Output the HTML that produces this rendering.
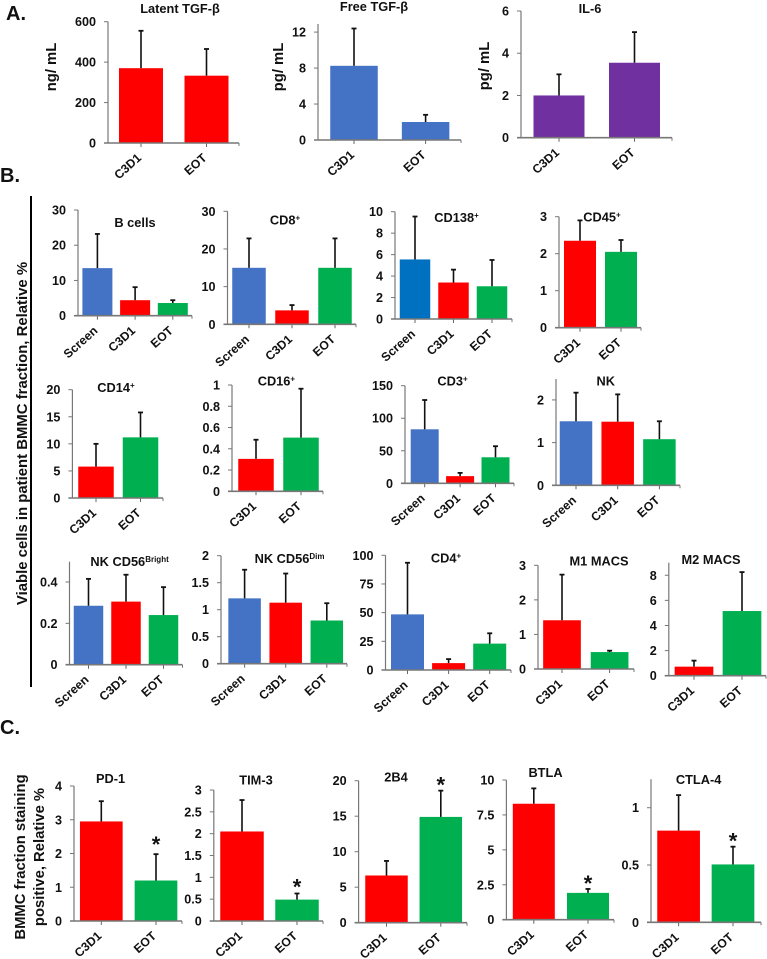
<!DOCTYPE html>
<html lang="en">
<head>
<meta charset="utf-8">
<title>Patient BMMC biomarker bar charts</title>
<style>
html,body{margin:0;padding:0;background:#fff;}
#figure{display:block;width:767px;height:959px;}
text{font-family:"Liberation Sans",sans-serif;font-weight:bold;fill:#111;}
</style>
</head>
<body>
<svg id="figure" xmlns="http://www.w3.org/2000/svg" width="767" height="959" viewBox="0 0 767 959">
  <rect x="0" y="0" width="767" height="959" fill="#ffffff"/>
  <text x="6" y="20" font-size="20">A.</text>
  <text x="0" y="182" font-size="20">B.</text>
  <text x="0" y="734" font-size="20">C.</text>
  <line x1="31" y1="196" x2="31" y2="687" stroke="#000" stroke-width="2"/>
  <text transform="translate(27,433.5) rotate(-90)" text-anchor="middle" font-size="14.9">Viable cells in patient BMMC fraction, Relative %</text>
  <text transform="translate(25,857) rotate(-90)" text-anchor="middle" font-size="14.8">BMMC fraction staining</text>
  <text transform="translate(44,857) rotate(-90)" text-anchor="middle" font-size="14.8">positive, Relative %</text>
</svg>
<script>
// ---- chart data ----
const twoCats = ['C3D1', 'EOT'];
const threeCats = ['Screen', 'C3D1', 'EOT'];

const latentValues = [370, 333];
const latentErrors = [555, 465];
const latentTicks = ['0', '200', '400', '600'];

const freeValues = [8.25, 2];
const freeErrors = [12.4, 2.8];
const freeTicks = ['0', '4', '8', '12'];

const il6Values = [2, 3.55];
const il6Errors = [3, 5];
const il6Ticks = ['0', '2', '4', '6'];

const bCellValues = [13.5, 4.4, 3.6];
const bCellErrors = [23.2, 8.1, 4.4];
const bCellTicks = ['0', '10', '20', '30'];

const cd8Values = [15, 3.7, 15];
const cd8Errors = [22.8, 5.1, 22.8];
const cd8Ticks = ['0', '10', '20', '30'];

const cd138Values = [5.55, 3.4, 3.05];
const cd138Errors = [9.55, 4.6, 5.5];
const cd138Ticks = ['0', '2', '4', '6', '8', '10'];

const cd45Values = [2.35, 2.05];
const cd45Errors = [2.9, 2.37];
const cd45Ticks = ['0', '1', '2', '3'];

const cd14Values = [5.8, 11.2];
const cd14Errors = [10, 15.8];
const cd14Ticks = ['0', '5', '10', '15', '20'];

const cd16Values = [0.305, 0.505];
const cd16Errors = [0.485, 0.965];
const cd16Ticks = ['0', '0.2', '0.4', '0.6', '0.8', '1'];

const cd3Values = [83, 11, 40];
const cd3Errors = [128, 16, 57];
const cd3Ticks = ['0', '50', '100', '150'];

const nkValues = [1.5, 1.49, 1.08];
const nkErrors = [2.17, 2.13, 1.5];
const nkTicks = ['0', '1', '2'];

const brightValues = [0.285, 0.305, 0.24];
const brightErrors = [0.415, 0.435, 0.375];
const brightTicks = ['0', '0.2', '0.4'];

const dimValues = [1.21, 1.13, 0.8];
const dimErrors = [1.74, 1.67, 1.12];
const dimTicks = ['0', '0.5', '1', '1.5', '2'];

const cd4Values = [48.5, 6, 23];
const cd4Errors = [93.5, 9.5, 32];
const cd4Ticks = ['0', '25', '50', '75', '100'];

const m1Values = [1.41, 0.49];
const m1Errors = [2.73, 0.53];
const m1Ticks = ['0', '1', '2', '3'];

const m2Values = [0.72, 5.15];
const m2Errors = [1.2, 8.25];
const m2Ticks = ['0', '2', '4', '6', '8'];

const pd1Values = [2.95, 1.2];
const pd1Errors = [3.55, 1.98];
const pd1Ticks = ['0', '1', '2', '3', '4'];

const tim3Values = [2.05, 0.49];
const tim3Errors = [2.77, 0.63];
const tim3Ticks = ['0', '0.5', '1', '1.5', '2', '2.5', '3'];

const b2b4Values = [6.65, 14.9];
const b2b4Errors = [8.7, 18.6];
const b2b4Ticks = ['0', '5', '10', '15', '20'];

const btlaValues = [8.3, 1.92];
const btlaErrors = [9.4, 2.2];
const btlaTicks = ['0', '2.5', '5', '7.5', '10'];

const ctlaValues = [0.8, 0.505];
const ctlaErrors = [1.11, 0.66];
const ctlaTicks = ['0', '0.5', '1'];

const BLUE = '#4472C4', RED = '#FF0000', GREEN = '#00B050', PURPLE = '#7030A0', DEEPBLUE = '#0070C0';
const NS = 'http://www.w3.org/2000/svg';
const svg = document.getElementById('figure');

function make(tag, attrs, parent) {
  const n = document.createElementNS(NS, tag);
  for (const k in attrs) n.setAttribute(k, attrs[k]);
  parent.appendChild(n);
  return n;
}

function drawChart(c) {
  const yScale = v => c.y0 - (v / c.yMax) * (c.y0 - c.yTop);
  const xScale = i => c.first + i * c.step;
  const colorOf = i => c.colors ? c.colors[i] : ({Screen: BLUE, C3D1: RED, EOT: GREEN})[c.cats[i]];

  const g = make('g', {}, svg);
  
  

  c.vals.forEach((v, i) => {
    const bar = make('rect', {
      x: xScale(i) - c.barW / 2, y: yScale(v), width: c.barW, height: c.y0 - yScale(v), fill: colorOf(i)
    }, g);
    
    

    const err = make('line', {
      x1: xScale(i), x2: xScale(i), y1: yScale(v), y2: yScale(c.errs[i]), stroke: '#111', 'stroke-width': 1.6
    }, g);
    
    

    const cap = make('line', {
      x1: xScale(i) - 2.5, x2: xScale(i) + 2.5, y1: yScale(c.errs[i]), y2: yScale(c.errs[i]), stroke: '#111', 'stroke-width': 1.8
    }, g);
    
    

    const tick = make('line', {
      x1: xScale(i), x2: xScale(i), y1: c.y0, y2: c.y0 + 4, stroke: '#666', 'stroke-width': 1
    }, g);
    
    

    const label = make('text', {
      transform: 'translate(' + (xScale(i) + 1) + ',' + (c.y0 + 16) + ') rotate(-42)',
      'text-anchor': 'end', 'font-size': 12.2
    }, g);
    label.textContent = c.cats[i];
    
    
  });

  const yAxis = make('line', {
    x1: c.axisX, x2: c.axisX, y1: c.yTop, y2: c.y0, stroke: '#777', 'stroke-width': 1.2
  }, g);
  
  

  const xAxis = make('line', {
    x1: c.axisX - 4, x2: c.right, y1: c.y0, y2: c.y0, stroke: '#777', 'stroke-width': 1.6
  }, g);
  
  

  const rightEnd = make('line', {
    x1: c.right, x2: c.right, y1: c.y0, y2: c.y0 + 3, stroke: '#777', 'stroke-width': 1
  }, g);
  
  

  c.ticks.forEach(t => {
    const v = parseFloat(t);
    const tick = make('line', {
      x1: c.axisX - 4, x2: c.axisX, y1: yScale(v), y2: yScale(v), stroke: '#777', 'stroke-width': 1
    }, g);
    
    

    const label = make('text', {
      x: c.axisX - 12, y: yScale(v) + 4.5, 'text-anchor': 'end', 'font-size': 12.6
    }, g);
    label.textContent = t;
    
    
  });

  const title = make('text', {
    x: c.titleX, y: c.titleY + 4, 'text-anchor': 'middle', 'font-size': 12.8
  }, g);
  title.textContent = c.title;
  
  
  if (c.sup) {
    const s = make('tspan', {dy: -4, 'font-size': 8}, title);
    s.textContent = c.sup;
    
    
  }

  if (c.unit) {
    const unit = make('text', {
      transform: 'translate(' + c.unitX + ',' + c.unitY + ') rotate(-90)', 'text-anchor': 'middle', 'font-size': 14.8
    }, g);
    unit.textContent = c.unit;
    
    
  }

  if (c.starGap) {
    const star = make('text', {
      x: xScale(1), y: yScale(c.errs[1]) - c.starGap + 12, 'text-anchor': 'middle', 'font-size': 22
    }, g);
    star.textContent = '*';
    
    
  }
}

// Panel A
drawChart({id:'latent-tgf-beta', title:'Latent TGF-\u03B2', titleX:180, titleY:9, cats:twoCats, vals:latentValues, errs:latentErrors, ticks:latentTicks, yMax:600, axisX:108, y0:143, yTop:21.7, right:239, first:141, step:65.5, barW:44, colors:[RED,RED], unit:'ng/ mL', unitX:56, unitY:67});
drawChart({id:'free-tgf-beta', title:'Free TGF-\u03B2', titleX:374, titleY:7, cats:twoCats, vals:freeValues, errs:freeErrors, ticks:freeTicks, yMax:12.9, axisX:318, y0:140, yTop:24, right:461, first:354, step:71.6, barW:47.5, colors:[BLUE,BLUE], unit:'pg/ mL', unitX:283, unitY:67});
drawChart({id:'il-6', title:'IL-6', titleX:590, titleY:9, cats:twoCats, vals:il6Values, errs:il6Errors, ticks:il6Ticks, yMax:6, axisX:521, y0:137.7, yTop:11, right:672, first:559, step:75.5, barW:51, colors:[PURPLE,PURPLE], unit:'pg/ mL', unitX:489, unitY:66});

// Panel B, row 1
drawChart({id:'b-cells', title:'B cells', titleX:135, titleY:223, cats:threeCats, vals:bCellValues, errs:bCellErrors, ticks:bCellTicks, yMax:30, axisX:78, y0:315.7, yTop:210, right:192, first:97.4, step:37.7, barW:30});
drawChart({id:'cd8', title:'CD8', sup:'+', titleX:285, titleY:220.7, cats:threeCats, vals:cd8Values, errs:cd8Errors, ticks:cd8Ticks, yMax:30, axisX:227.5, y0:324.3, yTop:211.3, right:356, first:249, step:43, barW:33.5});
drawChart({id:'cd138', title:'CD138', sup:'+', titleX:456.5, titleY:218, cats:threeCats, vals:cd138Values, errs:cd138Errors, ticks:cd138Ticks, yMax:10, axisX:395, y0:319, yTop:211.7, right:512, first:415, step:38.5, barW:30.5, colors:[DEEPBLUE,RED,GREEN]});
drawChart({id:'cd45', title:'CD45', sup:'+', titleX:602, titleY:217.7, cats:twoCats, vals:cd45Values, errs:cd45Errors, ticks:cd45Ticks, yMax:3, axisX:559, y0:327.7, yTop:216.7, right:641, first:580, step:41, barW:32});

// Panel B, row 2
drawChart({id:'cd14', title:'CD14', sup:'+', titleX:116, titleY:388, cats:twoCats, vals:cd14Values, errs:cd14Errors, ticks:cd14Ticks, yMax:20, axisX:72.4, y0:498, yTop:389.7, right:163, first:96, step:44.5, barW:35.5});
drawChart({id:'cd16', title:'CD16', sup:'+', titleX:276.4, titleY:381.7, cats:twoCats, vals:cd16Values, errs:cd16Errors, ticks:cd16Ticks, yMax:1, axisX:232, y0:491.3, yTop:385, right:323, first:256, step:45, barW:35.5});
drawChart({id:'cd3', title:'CD3', sup:'+', titleX:452.5, titleY:381.7, cats:threeCats, vals:cd3Values, errs:cd3Errors, ticks:cd3Ticks, yMax:150, axisX:405, y0:483.3, yTop:385.7, right:514, first:424.7, step:35.4, barW:28});
drawChart({id:'nk', title:'NK', titleX:605.7, titleY:381.7, cats:threeCats, vals:nkValues, errs:nkErrors, ticks:nkTicks, yMax:2.49, axisX:556, y0:485.3, yTop:379, right:680, first:576, step:41.7, barW:32.5});

// Panel B, row 3
drawChart({id:'nk-cd56-bright', title:'NK CD56', sup:'Bright', titleX:129.6, titleY:562, cats:threeCats, vals:brightValues, errs:brightErrors, ticks:brightTicks, yMax:0.498, axisX:69.5, y0:664.7, yTop:561.7, right:182.5, first:88.5, step:37.5, barW:29.5});
drawChart({id:'nk-cd56-dim', title:'NK CD56', sup:'Dim', titleX:289.6, titleY:559, cats:threeCats, vals:dimValues, errs:dimErrors, ticks:dimTicks, yMax:2, axisX:221, y0:663.7, yTop:555.7, right:347, first:244.6, step:41.1, barW:32.5});
drawChart({id:'cd4', title:'CD4', sup:'+', titleX:446, titleY:558.7, cats:threeCats, vals:cd4Values, errs:cd4Errors, ticks:cd4Ticks, yMax:100, axisX:385.5, y0:670, yTop:555.3, right:511, first:407.5, step:41.1, barW:33});
drawChart({id:'m1-macs', title:'M1 MACS', titleX:599, titleY:561.7, cats:twoCats, vals:m1Values, errs:m1Errors, ticks:m1Ticks, yMax:3, axisX:538, y0:669, yTop:565.3, right:634, first:562, step:47.6, barW:37.7});
drawChart({id:'m2-macs', title:'M2 MACS', titleX:711, titleY:560, cats:twoCats, vals:m2Values, errs:m2Errors, ticks:m2Ticks, yMax:9, axisX:668.8, y0:675.7, yTop:562.7, right:766, first:694, step:48, barW:38.7});

// Panel C
drawChart({id:'pd-1', title:'PD-1', titleX:110.6, titleY:779, cats:twoCats, vals:pd1Values, errs:pd1Errors, ticks:pd1Ticks, yMax:4, axisX:74, y0:921, yTop:786, right:182, first:101.3, step:54.7, barW:42.7, starGap:14});
drawChart({id:'tim-3', title:'TIM-3', titleX:256, titleY:780.7, cats:twoCats, vals:tim3Values, errs:tim3Errors, ticks:tim3Ticks, yMax:3, axisX:213.8, y0:921, yTop:790, right:323, first:242, step:55, barW:43.5, starGap:11});
drawChart({id:'2b4', title:'2B4', titleX:396, titleY:777.7, cats:twoCats, vals:b2b4Values, errs:b2b4Errors, ticks:b2b4Ticks, yMax:20, axisX:358.6, y0:922.7, yTop:780.7, right:467, first:386.5, step:54.3, barW:42.5, starGap:10});
drawChart({id:'btla', title:'BTLA', titleX:545.5, titleY:773, cats:twoCats, vals:btlaValues, errs:btlaErrors, ticks:btlaTicks, yMax:10, axisX:506.4, y0:919.7, yTop:780, right:614, first:533.8, step:54.2, barW:42, starGap:10});
drawChart({id:'ctla-4', title:'CTLA-4', titleX:698.6, titleY:780, cats:twoCats, vals:ctlaValues, errs:ctlaErrors, ticks:ctlaTicks, yMax:1.248, axisX:651, y0:922.3, yTop:779.3, right:761, first:678.6, step:54.4, barW:42.7, starGap:10});
</script>
</body>
</html>
